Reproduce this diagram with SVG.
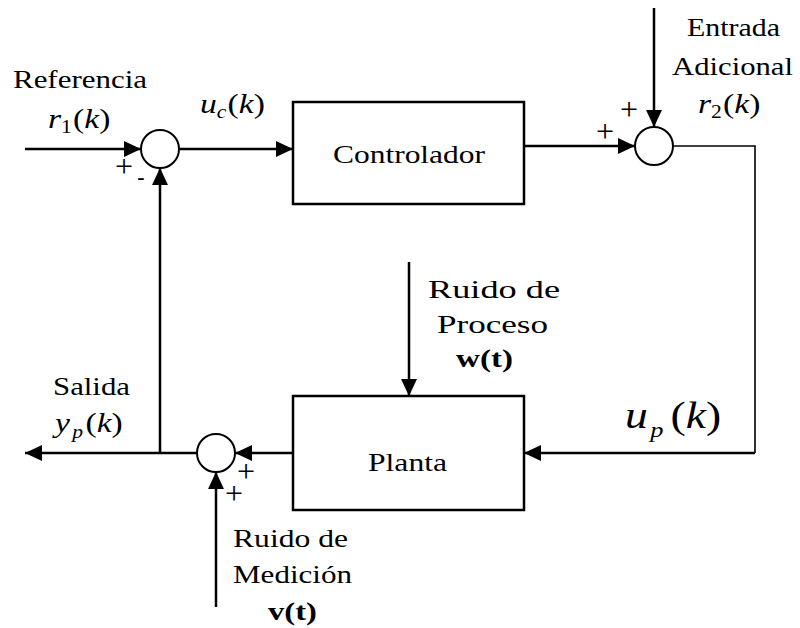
<svg xmlns="http://www.w3.org/2000/svg" width="800" height="628" viewBox="0 0 800 628">
<style>
.t{font-family:"Liberation Serif","Times New Roman",serif;font-size:26px;fill:#000}
.m{font-family:"Liberation Serif","Times New Roman",serif;font-size:28px;fill:#000}
.mu{font-family:"Liberation Serif","Times New Roman",serif;font-size:38px;fill:#000}
.b{font-weight:bold}
.i{font-style:italic}
.sgn{font-family:"Liberation Serif","Times New Roman",serif;font-size:32px;fill:#000;text-anchor:middle}
.dash{font-family:"Liberation Serif","Times New Roman",serif;font-size:22px;font-weight:bold;fill:#000;text-anchor:middle}
.box{fill:#fff;stroke:#000;stroke-width:2.5}
.sum{fill:#fff;stroke:#000;stroke-width:2}
.ln{fill:none;stroke:#000;stroke-width:2.5}
.thin{fill:none;stroke:#000;stroke-width:1.6}
</style>
<defs>
<marker id="ah" markerUnits="userSpaceOnUse" markerWidth="18" markerHeight="16" refX="17" refY="8" orient="auto">
<path d="M0,0 L17,8 L0,16 Z" fill="#000"/>
</marker>
</defs>
<rect width="800" height="628" fill="#fff"/>
<g id="connectors">
<line class="ln" x1="25" y1="149" x2="141" y2="149" marker-end="url(#ah)"/>
<line class="ln" x1="179" y1="149" x2="293" y2="149" marker-end="url(#ah)"/>
<line class="ln" x1="524" y1="146" x2="635" y2="146" marker-end="url(#ah)"/>
<line class="ln" x1="654" y1="8" x2="654" y2="127" marker-end="url(#ah)"/>
<polyline class="thin" points="673,146 755,146 755,453"/>
<line class="ln" x1="755" y1="453" x2="524" y2="453" marker-end="url(#ah)"/>
<line class="ln" x1="409" y1="262" x2="409" y2="396" marker-end="url(#ah)"/>
<line class="ln" x1="293" y1="453" x2="235" y2="453" marker-end="url(#ah)"/>
<line class="ln" x1="197" y1="453" x2="25" y2="453" marker-end="url(#ah)"/>
<line class="ln" x1="160" y1="453" x2="160" y2="168" marker-end="url(#ah)"/>
<line class="ln" x1="216" y1="607" x2="216" y2="472" marker-end="url(#ah)"/>
</g>
<g id="sum1">
<circle class="sum" cx="160" cy="149" r="19"/>
<text class="sgn" x="124" y="177">+</text>
<text class="dash" x="141" y="184">-</text>
</g>
<g id="controlador">
<rect class="box" x="293" y="102" width="231" height="102"/>
<text class="t" x="333" y="163" textLength="152" lengthAdjust="spacingAndGlyphs">Controlador</text>
</g>
<g id="sum2">
<circle class="sum" cx="654" cy="146" r="19"/>
<text class="sgn" x="629" y="120">+</text>
<text class="sgn" x="605" y="142">+</text>
</g>
<g id="planta">
<rect class="box" x="293" y="396" width="231" height="114"/>
<text class="t" x="368" y="471" textLength="79" lengthAdjust="spacingAndGlyphs">Planta</text>
</g>
<g id="sum3">
<circle class="sum" cx="216" cy="453" r="19"/>
<text class="sgn" x="246" y="482">+</text>
<text class="sgn" x="234" y="504">+</text>
</g>
<g id="referencia">
<text class="t" x="13" y="88" textLength="134" lengthAdjust="spacingAndGlyphs">Referencia</text>
<text class="m" transform="translate(48,128) scale(1.2,1)"><tspan class="i">r</tspan><tspan font-size="18" dy="5">1</tspan><tspan dx="1" dy="-5">(</tspan><tspan class="i">k</tspan>)</text>
</g>
<g id="uc">
<text class="m" transform="translate(200,113) scale(1.2,1)"><tspan class="i">u</tspan><tspan class="i" font-size="18" dy="5">c</tspan><tspan dx="1" dy="-5">(</tspan><tspan class="i">k</tspan>)</text>
</g>
<g id="entrada">
<text class="t" x="687" y="36" textLength="93" lengthAdjust="spacingAndGlyphs">Entrada</text>
<text class="t" x="672" y="75" textLength="121" lengthAdjust="spacingAndGlyphs">Adicional</text>
<text class="m" transform="translate(698,113) scale(1.2,1)"><tspan class="i">r</tspan><tspan font-size="18" dy="5">2</tspan><tspan dx="1" dy="-5">(</tspan><tspan class="i">k</tspan>)</text>
</g>
<g id="ruido-proceso">
<text class="t" x="428" y="298" textLength="132" lengthAdjust="spacingAndGlyphs">Ruido de</text>
<text class="t" x="437" y="333" textLength="111" lengthAdjust="spacingAndGlyphs">Proceso</text>
<text class="t b" x="456" y="367" textLength="57" lengthAdjust="spacingAndGlyphs">w(t)</text>
</g>
<g id="up">
<text class="mu" transform="translate(625,428) scale(1.2,1)"><tspan class="i">u</tspan><tspan class="i" font-size="22" dx="2" dy="9">p</tspan><tspan dx="6" dy="-9">(</tspan><tspan class="i">k</tspan>)</text>
</g>
<g id="salida">
<text class="t" x="53" y="395" textLength="77" lengthAdjust="spacingAndGlyphs">Salida</text>
<text class="m" transform="translate(55,432) scale(1.2,1)"><tspan class="i">y</tspan><tspan class="i" font-size="18" dx="2" dy="6">p</tspan><tspan dx="2" dy="-6">(</tspan><tspan class="i">k</tspan>)</text>
</g>
<g id="ruido-medicion">
<text class="t" x="233" y="547" textLength="115" lengthAdjust="spacingAndGlyphs">Ruido de</text>
<text class="t" x="233" y="583" textLength="119" lengthAdjust="spacingAndGlyphs">Medición</text>
<text class="t b" x="268" y="620" textLength="49" lengthAdjust="spacingAndGlyphs">v(t)</text>
</g>
</svg>
